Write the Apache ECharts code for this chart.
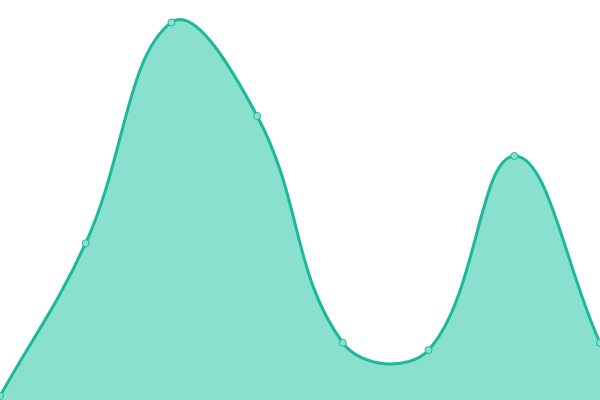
<!DOCTYPE html>
<html>
<head>
<meta charset="utf-8">
<script src="https://cdn.jsdelivr.net/npm/echarts@6/dist/echarts.min.js"></script>
<style>html,body{margin:0;padding:0;background:#fff}#c{width:600px;height:400px}</style>
</head>
<body>
<div id="c"></div>
<script>
const categories = ['A','B','C','D','E','F','G','H'];
const values = [1, 39.2, 94.4, 71, 14.3, 12.5, 61, 14.3];

const LINE_COLOR = '#1ab99a';
const FILL_COLOR = '#89e0cf';
const TENSION = 0.4;

// Spline shape (distance-weighted cardinal spline), built from coordinates
// that are computed through the chart's own scales.
const SplineShape = echarts.graphic.extendShape({
  shape: {points: [], baseY: 0, closed: false, t: 0.4},
  buildPath: function (ctx, shape) {
    const p = shape.points, n = p.length, t = shape.t;
    if (!n) return;
    const dist = (a, b) => Math.hypot(b[0] - a[0], b[1] - a[1]);
    const cps = p.map((cur, i) => {
      const prev = p[i - 1] || cur, next = p[i + 1] || cur;
      const d01 = dist(prev, cur), d12 = dist(cur, next);
      let s01 = d01 / (d01 + d12), s12 = d12 / (d01 + d12);
      if (isNaN(s01)) s01 = 0;
      if (isNaN(s12)) s12 = 0;
      const fa = t * s01, fb = t * s12;
      return {
        px: cur[0] - fa * (next[0] - prev[0]), py: cur[1] - fa * (next[1] - prev[1]),
        nx: cur[0] + fb * (next[0] - prev[0]), ny: cur[1] + fb * (next[1] - prev[1])
      };
    });
    ctx.moveTo(p[0][0], p[0][1]);
    for (let i = 1; i < n; i++) {
      ctx.bezierCurveTo(cps[i - 1].nx, cps[i - 1].ny, cps[i].px, cps[i].py, p[i][0], p[i][1]);
    }
    if (shape.closed) {
      ctx.lineTo(p[n - 1][0], shape.baseY);
      ctx.lineTo(p[0][0], shape.baseY);
      ctx.closePath();
    }
  }
});
echarts.graphic.registerShape('cardinalSpline', SplineShape);

const chart = echarts.init(document.getElementById('c'));
chart.setOption({
  animation: false,
  grid: {left: 0, right: 0, top: 0, bottom: 0},
  xAxis: {type: 'category', data: categories, boundaryGap: false, show: false},
  yAxis: {type: 'value', min: 0, max: 100, show: false},
  series: [{
    type: 'custom',
    data: [0],
    renderItem: function (params, api) {
      const pts = values.map((v, i) => api.coord([i, v]));
      const baseY = api.coord([0, 0])[1];
      return {
        type: 'group',
        children: [{
          type: 'cardinalSpline',
          shape: {points: pts, baseY: baseY, closed: true, t: TENSION},
          style: {fill: FILL_COLOR, stroke: null}
        }, {
          type: 'cardinalSpline',
          shape: {points: pts, baseY: baseY, closed: false, t: TENSION},
          style: {fill: null, stroke: LINE_COLOR, lineWidth: 3}
        }]
      };
    },
    z: 1
  }, {
    type: 'scatter',
    data: values,
    symbol: 'circle',
    symbolSize: 7,
    itemStyle: {color: FILL_COLOR, borderColor: LINE_COLOR, borderWidth: 1, opacity: 1},
    z: 2
  }]
});
</script>
</body>
</html>
